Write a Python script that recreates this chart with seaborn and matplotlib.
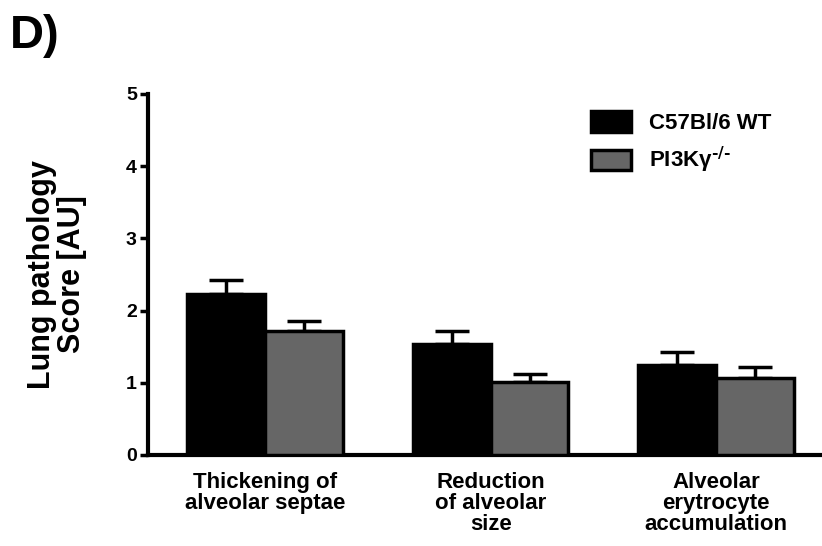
import seaborn as sns
import matplotlib.pyplot as plt
import pandas as pd
import numpy as np

# values
categories = ["Thickening of\nalveolar septae",
              "Reduction\nof alveolar\nsize",
              "Alveolar\nerytrocyte\naccumulation"]
groups = ["C57Bl/6 WT", r"PI3K$\gamma^{\text{-/-}}$"]
wt_mean = [2.23, 1.54, 1.24]
wt_sem = [0.20, 0.18, 0.19]
ko_mean = [1.72, 1.01, 1.06]
ko_sem = [0.13, 0.11, 0.16]

data = pd.DataFrame({
    "category": categories * 2,
    "group": [groups[0]] * 3 + [groups[1]] * 3,
    "score": wt_mean + ko_mean,
    "sem": wt_sem + ko_sem,
})

sns.set_style("ticks")
plt.rcParams["font.family"] = ["Liberation Sans", "DejaVu Sans"]
plt.rcParams["font.weight"] = "bold"
plt.rcParams["mathtext.default"] = "regular"
plt.rcParams["text.color"] = "black"
plt.rcParams["axes.labelcolor"] = "black"
plt.rcParams["xtick.color"] = "black"
plt.rcParams["ytick.color"] = "black"
plt.rcParams["axes.edgecolor"] = "black"

fig = plt.figure(figsize=(8.22, 5.46), dpi=100)
ax = fig.add_axes([0.18, 0.1667, 0.82, 0.6612])

sns.barplot(data=data, x="category", y="score", hue="group",
            palette=["#000000", "#666666"], edgecolor="black",
            linewidth=2.5, width=0.69, errorbar=None, ax=ax, zorder=3)

# upper-only error bars placed on the seaborn bars
bars = [p for p in ax.patches if p.get_height() > 0][:6]
for p, err in zip(bars, data["sem"]):
    cx = p.get_x() + p.get_width() / 2
    ax.errorbar(cx, p.get_height(), yerr=[[0], [err]], fmt="none",
                ecolor="black", elinewidth=2.5, capsize=12, capthick=2.5,
                zorder=2)

ax.set_ylim(0, 5)
ax.set_xlim(-0.52, 2.47)
ax.set_yticks([0, 1, 2, 3, 4, 5])
ax.set_xlabel("")
ax.set_ylabel("Lung pathology\nScore [AU]", fontsize=22, fontweight="bold",
              labelpad=28, linespacing=1.0)
ax.tick_params(axis="y", labelsize=14, width=2.5, length=6, direction="out",
               pad=2)
ax.tick_params(axis="x", labelsize=16, length=0, pad=12)
for lab in ax.get_xticklabels() + ax.get_yticklabels():
    lab.set_fontweight("bold")
for lab in ax.get_xticklabels():
    lab.set_linespacing(1.0)

sns.despine(ax=ax)
ax.spines["left"].set_linewidth(3)
ax.spines["bottom"].set_linewidth(3)

leg = ax.legend(loc="upper left", bbox_to_anchor=(0.628, 1.008), frameon=False,
                fontsize=16, handlelength=1.8, handleheight=1.05,
                handletextpad=0.8, labelspacing=0.5)
for t in leg.get_texts():
    t.set_fontweight("bold")

fig.text(0.012, 0.975, "D)", fontsize=34, fontweight="bold", va="top")

fig.savefig("out.png", dpi=100)
